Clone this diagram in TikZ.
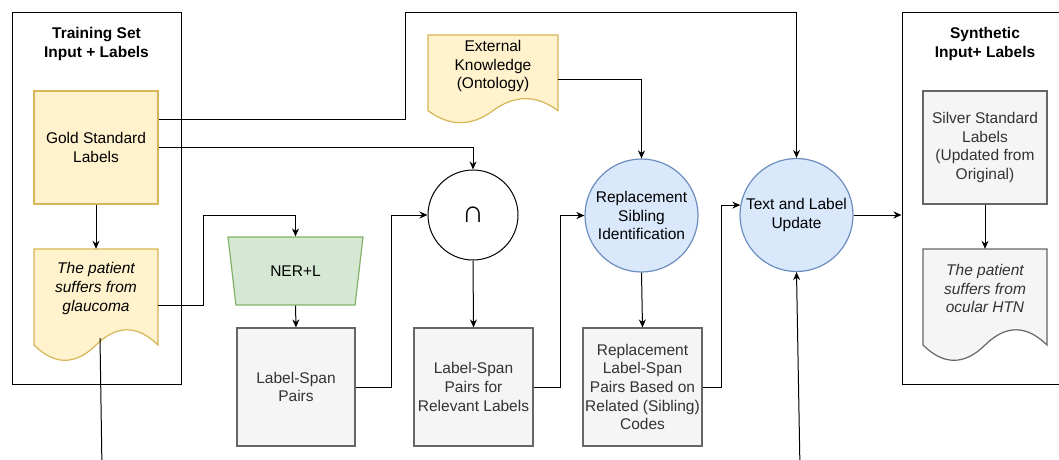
\documentclass[tikz,border=0pt]{standalone}
\usepackage{fontspec}
\setmainfont{Liberation Sans}
\usetikzlibrary{arrows.meta,shapes.geometric}

\definecolor{goldfill}{HTML}{FFF2CC}
\definecolor{golddraw}{HTML}{D6B656}
\definecolor{nerfill}{HTML}{D5E8D4}
\definecolor{nerdraw}{HTML}{82B366}
\definecolor{opfill}{HTML}{DAE8FC}
\definecolor{opdraw}{HTML}{6C8EBF}
\definecolor{boxfill}{HTML}{F5F5F5}
\definecolor{boxdraw}{HTML}{666666}
\definecolor{boxtext}{HTML}{333333}

\tikzset{
  every node/.style={font=\fontsize{15.5}{18.6}\selectfont, align=center, inner sep=0pt},
  flow/.style={-{Stealth[length=8pt,width=7pt]}, line width=1pt},
  wire/.style={line width=1pt},
  frame/.style={draw, line width=1pt, minimum width=169, minimum height=372},
  title/.style={font=\fontsize{15.5}{18.6}\selectfont\bfseries},
  gold/.style={fill=goldfill, draw=golddraw, line width=1.2pt},
  silver/.style={fill=boxfill, draw=boxdraw, line width=1.2pt, text=boxtext},
  op/.style={circle, fill=opfill, draw=opdraw, line width=1.2pt, minimum size=113},
  sq/.style={silver, minimum width=119, minimum height=118},
}

% document shape with a wavy bottom edge
% #1 name, #2 shape style, #3 text style, #4 left, #5 top, #6 width, #7 height, #8 text
\newcommand{\wavedoc}[8]{%
  \path[#2] (#4,#5) -- ({#4+#6},#5) -- ({#4+#6},{#5+0.85*#7})
    .. controls ({#4+5*#6/6},{#5+0.67*#7}) and ({#4+2*#6/3},{#5+0.67*#7}) .. ({#4+#6/2},{#5+0.85*#7})
    .. controls ({#4+#6/3},{#5+1.03*#7}) and ({#4+#6/6},{#5+1.03*#7}) .. (#4,{#5+0.85*#7}) -- cycle;
  \node[minimum width=#6, minimum height=#7] (#1) at ({#4+#6/2},{#5+#7/2}) {};
  \node[#3] (#1-txt) at ({#4+#6/2},{#5+0.35*#7}) {#8};
}

\begin{document}
\begin{tikzpicture}[x=1pt, y=-1pt]
\clip (0,0) rectangle (1059,459);

% training side
\node[frame] (train) at (96.5,198) {};
\node[title] (train-title) at (96.5,44) {Training Set\\Input + Labels};
\node[gold, minimum width=124, minimum height=113] (gold) at (96,147.5) {Gold Standard\\Labels};
\wavedoc{glauc}{gold}{font=\fontsize{15.5}{18.6}\selectfont\itshape}{34}{249}{124}{113}{The patient\\suffers from\\glaucoma}
\coordinate (glauc-out) at (100,338);
\coordinate (glauc-tail) at (102,470);

% knowledge source
\wavedoc{ext}{gold}{}{428}{35}{130}{89}{External\\Knowledge\\(Ontology)}

% pipeline
\node[trapezium, shape border rotate=180, trapezium left angle=72.45, trapezium right angle=72.45,
  trapezium stretches=true, minimum width=135, minimum height=68,
  fill=nerfill, draw=nerdraw, line width=1.2pt] (ner) at (295.5,271) {NER+L};
\node[sq, minimum width=118] (lsp) at (296,387) {Label-Span\\Pairs};
\node[circle, draw, line width=1pt, fill=white, minimum size=90] (cap) at (473,215)
  {\fontsize{31}{31}\selectfont ∩};
\node[sq] (rel) at (473.5,387) {Label-Span\\Pairs for\\Relevant Labels};
\node[op] (sib) at (641.5,215.5) {Replacement\\Sibling\\Identification};
\node[sq] (repl) at (642.5,387) {Replacement\\Label-Span\\Pairs Based on\\Related (Sibling)\\Codes};
\node[op] (update) at (796.5,215) {Text and Label\\Update};
\coordinate (upd-in) at (800,470);

% synthetic side
\node[frame] (synth) at (986.5,198) {};
\node[title] (synth-title) at (985,44) {Synthetic\\Input+ Labels};
\node[silver, minimum width=124, minimum height=113] (silver) at (985,147.5)
  {Silver Standard\\Labels\\(Updated from\\Original)};
\wavedoc{htn}{silver}{font=\fontsize{15.5}{18.6}\selectfont\itshape, text=boxtext}{923}{249}{124}{113}{The patient\\suffers from\\ocular HTN}

% connectors
\draw[flow] (gold.south) -- (glauc.north);
\draw[flow] ([yshift=28pt]gold.east) -- ++(247,0) -- ++(0,-107) -| (update.north);
\draw[flow] (gold.east) -| (cap.north);
\draw[flow] (glauc.east) -- ++(45,0) -- ++(0,-90) -| (ner.north);
\draw[wire] (glauc-out) -- (glauc-tail);
\draw[flow] (ner.south) -- (lsp.north);
\draw[flow] (lsp.east) -- ++(36,0) |- (cap.west);
\draw[flow] (cap.south) -- (rel.north);
\draw[flow] (rel.east) -- ++(27,0) |- (sib.west);
\draw[flow] (ext.east) -| (sib.north);
\draw[flow] (sib.south) -- (repl.north);
\draw[flow] (repl.east) -- ++(19,0) |- (update.170);
\draw[flow] (upd-in) -- (update.south);
\draw[flow] (update.east) -- (update.east -| synth.west);
\draw[flow] (silver.south) -- (htn.north);

\end{tikzpicture}
\end{document}
